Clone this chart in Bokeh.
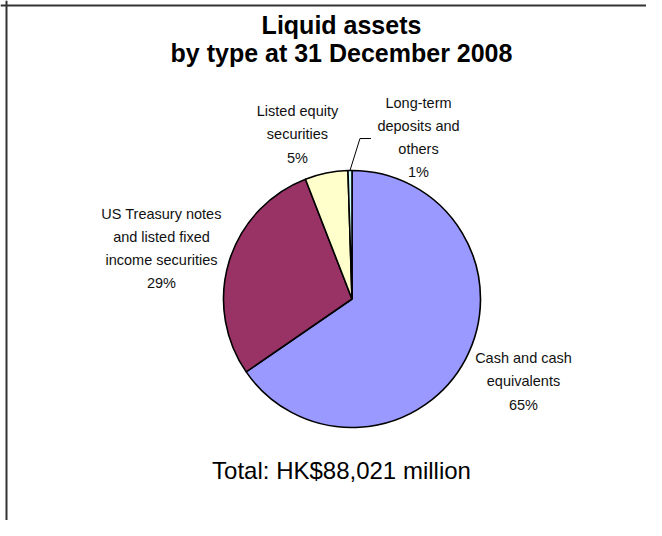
import math
from bokeh.plotting import figure
from bokeh.models import Range1d, Span, ColumnDataSource
from bokeh.core.properties import value
from bokeh.embed import file_html
from bokeh.resources import INLINE

# ---- data ----
categories = ["Cash and cash equivalents",
              "US Treasury notes and listed fixed income securities",
              "Listed equity securities",
              "Long-term deposits and others"]
shares = [65.4, 28.7, 5.4, 0.5]          # percent of total
share_labels = ["65%", "29%", "5%", "1%"]
label_texts = ["Cash and cash\nequivalents\n65%",
               "US Treasury notes\nand listed fixed\nincome securities\n29%",
               "Listed equity\nsecurities\n5%",
               "Long-term\ndeposits and\nothers\n1%"]
title_lines = ["Liquid assets", "by type at 31 December 2008"]
total_text = "Total: HK$88,021 million"

# ---- styles / layout ----
colors = ["#9999FF", "#993366", "#FFFFCC", "#CCFFFF"]
W, H = 646, 520


def px(X):
    return X


def py(Y):
    return H - Y


cx, cy, r = px(351.5), py(298.5), 128.5
label_pos = [(523, 381), (161, 248), (297, 134), (418, 137)]

p = figure(width=W, height=H, output_backend="svg", toolbar_location=None,
           x_range=Range1d(0, W), y_range=Range1d(0, H),
           x_axis_location=None, y_axis_location=None,
           min_border=0, outline_line_color=None, background_fill_color="white")
p.xgrid.visible = False
p.ygrid.visible = False

# wedges, clockwise from 12 o'clock
total = sum(shares)
cum = 0.0
starts, ends = [], []
for v in shares:
    a0 = math.pi / 2 - 2 * math.pi * (cum + v) / total
    a1 = math.pi / 2 - 2 * math.pi * cum / total
    starts.append(a0)
    ends.append(a1)
    cum += v

src = ColumnDataSource(dict(x=[cx] * len(shares), y=[cy] * len(shares),
                            start=starts, end=ends, color=colors, cat=categories))
p.wedge(x="x", y="y", radius=r, start_angle="start", end_angle="end",
        fill_color="color", line_color="black", line_width=1.6, source=src)

# leader line for smallest slice
mid = (starts[3] + ends[3]) / 2
x0, y0 = cx + r * math.cos(mid), cy + r * math.sin(mid)
p.line([x0, x0 + 10, x0 + 21], [y0, y0 + 32, y0 + 32], line_color="black", line_width=1)

# slice labels
for txt, (X, Y) in zip(label_texts, label_pos):
    p.text(x=[px(X)], y=[py(Y)], text=[txt], text_align="center", text_baseline="middle",
           text_font=value("Liberation Sans"), text_font_size="14.5px",
           text_color="#111111", text_line_height=1.45)

# title
for t, Y in zip(title_lines, [24, 52]):
    p.text(x=[px(341)], y=[py(Y)], text=[t], text_align="center", text_baseline="middle",
           text_font=value("Liberation Sans"), text_font_size="25px",
           text_font_style="bold", text_color="black")

# total
p.text(x=[px(341)], y=[py(470)], text=[total_text], text_align="center",
       text_baseline="middle", text_font=value("Liberation Sans"),
       text_font_size="24px", text_color="black")

# frame border (left and top only visible in reference)
p.add_layout(Span(location=6, dimension="height", line_color="#333333", line_width=2))
p.add_layout(Span(location=H - 5, dimension="width", line_color="#333333", line_width=2))

open("out.html", "w").write(file_html(p, INLINE))
